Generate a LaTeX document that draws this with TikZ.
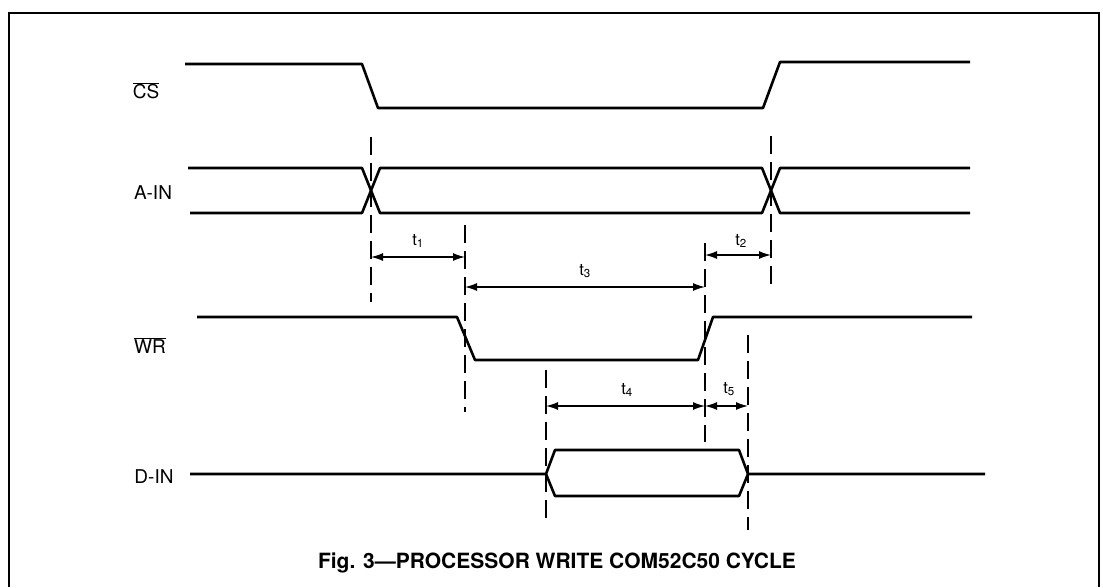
\documentclass[tikz,border=0pt]{standalone}
\usepackage{fontspec}
\setmainfont{TeX Gyre Heros}
\usetikzlibrary{arrows.meta}
\begin{document}
\begin{tikzpicture}[x=1pt,y=-1pt,
  sig/.style={line width=2.6pt,line join=round},
  guide/.style={line width=1.5pt,dash pattern=on 18pt off 8pt},
  dim/.style={line width=1.4pt,{Latex[length=12pt,width=8pt]}-{Latex[length=12pt,width=8pt]}},
  lbl/.style={font=\fontsize{19}{21}\selectfont,inner sep=0pt},
  tl/.style={font=\fontsize{16.5}{18}\selectfont,inner sep=0pt},
  frame/.style={line width=1.6pt}]
\useasboundingbox (0,0) rectangle (1103,587);
% frame
\draw[frame] (9,587) -- (9,13) -- (1099,13) -- (1099,587);
% signal labels
\node[lbl] (lcs) at (146,91) {$\overline{\mbox{CS}}$};
\node[lbl] (lain) at (153,193) {A-IN};
\node[lbl] (lwr) at (150,346) {$\overline{\mbox{WR}}$};
\node[lbl] (ldin) at (154,477) {D-IN};
% CS
\draw[sig] (185,64) -- (362,64) -- (378,108) -- (763,108) -- (780,62) -- (970,62);
% A-IN
\draw[sig] (188,168) -- (362,168) -- (380,213) -- (762,213) -- (780,168) -- (970,168);
\draw[sig] (190,213) -- (362,213) -- (380,168) -- (762,168) -- (780,213) -- (970,213);
% WR
\draw[sig] (197,317) -- (457,317) -- (475,360) -- (698,360) -- (713,317) -- (972,317);
% D-IN
\draw[sig] (190,474) -- (546,474) -- (555,450) -- (739,450) -- (748,474) -- (985,474);
\draw[sig] (546,474) -- (555,496) -- (739,496) -- (748,474);
% guide lines
\coordinate (g1t) at (371,137); \coordinate (g1b) at (371,302);
\coordinate (g2t) at (771,136); \coordinate (g2b) at (771,284);
\coordinate (g3t) at (465,225); \coordinate (g3b) at (465,412);
\coordinate (g4t) at (705,243); \coordinate (g4b) at (705,442);
\coordinate (g5t) at (546,370); \coordinate (g5b) at (546,522);
\coordinate (g6t) at (748,335); \coordinate (g6b) at (748,530);
\foreach \a in {1,...,6} \draw[guide] (g\a t) -- (g\a b);
% dimension arrows
\coordinate (a1l) at (371,257); \coordinate (a1r) at (465,257);
\coordinate (a2l) at (705,255); \coordinate (a2r) at (771,255);
\coordinate (a3l) at (465,287); \coordinate (a3r) at (705,287);
\coordinate (a4l) at (546,406); \coordinate (a4r) at (705,406);
\coordinate (a5l) at (705,406); \coordinate (a5r) at (748,406);
\draw[dim] (a1l) -- (a1r);
\draw[dim] (a2l) -- (a2r);
\draw[dim] (a3l) -- (a3r);
\draw[dim] (a4l) -- (a4r);
\draw[dim] (a5l) -- (a5r);
% timing labels
\node[tl] (t1) at (418,241) {t\textsubscript{1}};
\node[tl] (t2) at (741,241) {t\textsubscript{2}};
\node[tl] (t3) at (585,271) {t\textsubscript{3}};
\node[tl] (t4) at (627,390) {t\textsubscript{4}};
\node[tl] (t5) at (729,389) {t\textsubscript{5}};
% caption
\node[font=\bfseries\fontsize{21}{25}\selectfont,inner sep=0pt] (cap) at (557,563) {Fig. 3---PROCESSOR WRITE COM52C50 CYCLE};
\end{tikzpicture}
\end{document}
